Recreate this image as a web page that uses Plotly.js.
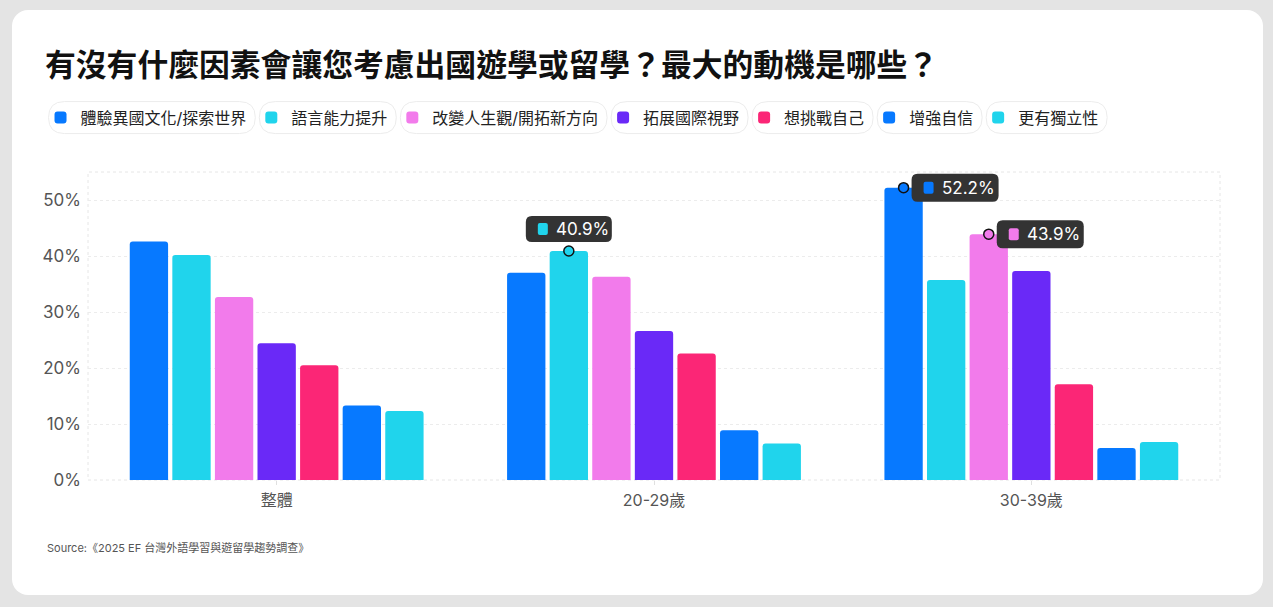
<!DOCTYPE html>
<html>
<head>
<meta charset="utf-8">
<script src="https://cdn.plot.ly/plotly-3.0.1.min.js"></script>
<style>
    html, body {
        margin: 0;
        padding: 0;
        background: #e4e4e4;
        width: 1273px;
        height: 607px;
        overflow: hidden;
    }

    #card {
        position: absolute;
        left: 12px;
        top: 10px;
        width: 1251px;
        height: 585px;
        background: #ffffff;
        border-radius: 16px;
        overflow: hidden;
    }

    #chart {
        width: 1251px;
        height: 585px;
    }
</style>
</head>
<body>
<div id="card"><div id="chart"></div></div>

<script>
// ---- data -------------------------------------------------------------

const groups = ["整體", "20-29歲", "30-39歲"];

const seriesNames = [
    "體驗異國文化/探索世界",
    "語言能力提升",
    "改變人生觀/開拓新方向",
    "拓展國際視野",
    "想挑戰自己",
    "增強自信",
    "更有獨立性"
];

const seriesColors = [
    "#0779FF",
    "#20D4EC",
    "#F27BEB",
    "#6A29F7",
    "#FB2676",
    "#0779FF",
    "#20D4EC"
];

// values per group, in series order (%)
const overall = [42.6, 40.2, 32.7, 24.4, 20.5, 13.3, 12.3];
const age20s = [37.0, 40.9, 36.3, 26.6, 22.6, 8.9, 6.5];
const age30s = [52.2, 35.7, 43.9, 37.3, 17.1, 5.7, 6.8];

const yTicks = [0, 10, 20, 30, 40, 50];
const yTickLabels = ["0%", "10%", "20%", "30%", "40%", "50%"];

// highlighted points: group index, series index, callout side
const callouts = [
    { group: 1, series: 1, side: "top" },
    { group: 2, series: 0, side: "right" },
    { group: 2, series: 2, side: "right" }
];

const sourceText = "Source:《2025 EF 台灣外語學習與遊留學趨勢調查》";

// ---- build ------------------------------------------------------------

const FONT = "Inter, 'Noto Sans CJK TC', 'Noto Sans', sans-serif";
const BARGAP = 0.21;
const groupValues = [overall, age20s, age30s];
const groupX = groups.map((g, i) => i);

const barTraces = seriesNames.map((name, s) => {
    return {
        type: "bar",
        name,
        x: groupX,
        y: groupValues.map(values => values[s]),
        marker: {
            color: seriesColors[s]
        },
        hoverinfo: "skip"
    };
});

// centre of a bar inside its group, in axis units
function barCentre(group, series) {
    const slot = (1 - BARGAP) / seriesNames.length;
    return group + (series - (seriesNames.length - 1) / 2) * slot;
}

function roundRect(x0, y0, x1, y1, r) {
    return `M${x0 + r},${y0} L${x1 - r},${y0} Q${x1},${y0} ${x1},${y0 + r}`
        + ` L${x1},${y1 - r} Q${x1},${y1} ${x1 - r},${y1}`
        + ` L${x0 + r},${y1} Q${x0},${y1} ${x0},${y1 - r}`
        + ` L${x0},${y0 + r} Q${x0},${y0} ${x0 + r},${y0} Z`;
}

const pointTrace = {
    type: "scatter",
    mode: "markers",
    x: callouts.map(c => barCentre(c.group, c.series)),
    y: callouts.map(c => groupValues[c.group][c.series]),
    marker: {
        size: 10,
        color: callouts.map(c => seriesColors[c.series]),
        line: {
            color: "#111",
            width: 1.5
        }
    },
    showlegend: false,
    hoverinfo: "skip",
    cliponaxis: false
};

const shapes = [
    {
        type: "rect",
        xref: "paper",
        yref: "paper",
        x0: 0,
        x1: 1,
        y0: 0,
        y1: 1,
        line: {
            color: "#e6e6e6",
            width: 1,
            dash: "dot"
        },
        layer: "below"
    }
];

const annotations = [];

callouts.forEach(c => {
    const x = barCentre(c.group, c.series);
    const y = groupValues[c.group][c.series];

    // box and swatch offsets in pixels from the point
    const box = c.side === "top"
        ? [-43, 9, 43, 35]
        : [8, -14, 95, 14];
    const swatch = c.side === "top"
        ? [-31, 16, -21, 28]
        : [20, -6, 30, 6];
    const textShift = c.side === "top"
        ? [-15, 22]
        : [36, 0];

    const common = {
        type: "path",
        xref: "x",
        yref: "y",
        xsizemode: "pixel",
        ysizemode: "pixel",
        xanchor: x,
        yanchor: y,
        layer: "above",
        line: { width: 0 }
    };

    shapes.push(Object.assign({}, common, {
        path: roundRect(box[0], box[1], box[2], box[3], 6),
        fillcolor: "#333333"
    }));

    shapes.push(Object.assign({}, common, {
        path: roundRect(swatch[0], swatch[1], swatch[2], swatch[3], 2),
        fillcolor: seriesColors[c.series]
    }));

    annotations.push({
        xref: "x",
        yref: "y",
        x,
        y,
        xanchor: "left",
        yanchor: "middle",
        xshift: textShift[0],
        yshift: textShift[1],
        showarrow: false,
        text: y.toFixed(1) + "%",
        font: {
            family: FONT,
            size: 17,
            color: "#ffffff"
        }
    });
});

annotations.push({
    xref: "paper",
    yref: "paper",
    x: -0.038,
    y: -0.22,
    xanchor: "left",
    yanchor: "middle",
    showarrow: false,
    text: sourceText,
    font: {
        family: FONT,
        size: 11,
        color: "#555"
    }
});

const layout = {
    width: 1251,
    height: 585,
    paper_bgcolor: "rgba(0,0,0,0)",
    plot_bgcolor: "rgba(0,0,0,0)",
    font: {
        family: FONT,
        color: "#555"
    },
    margin: {
        l: 76,
        r: 43,
        t: 162,
        b: 115
    },
    title: {
        text: "有沒有什麼因素會讓您考慮出國遊學或留學？最大的動機是哪些？",
        xref: "container",
        yref: "container",
        x: 0.0264,
        y: 0.906,
        xanchor: "left",
        yanchor: "middle",
        font: {
            family: FONT,
            size: 30.8,
            weight: "bold",
            color: "#111"
        }
    },
    legend: {
        orientation: "h",
        xref: "container",
        yref: "container",
        x: 0.0228,
        y: 0.845,
        xanchor: "left",
        yanchor: "top",
        font: {
            family: FONT,
            size: 16,
            color: "#222"
        },
        traceorder: "normal"
    },
    barmode: "group",
    bargap: BARGAP,
    bargroupgap: 0.1,
    barcornerradius: 3,
    xaxis: {
        range: [-0.5, 2.5],
        tickvals: groupX,
        ticktext: groups,
        ticks: "outside",
        ticklen: 4,
        tickcolor: "#e0e0e0",
        showgrid: false,
        zeroline: false,
        showline: false,
        ticklabelstandoff: 2,
        tickfont: {
            family: FONT,
            size: 16,
            color: "#555"
        },
        fixedrange: true
    },
    yaxis: {
        range: [0, 55],
        tickvals: yTicks,
        ticktext: yTickLabels,
        gridcolor: "#ececec",
        griddash: "dot",
        zeroline: false,
        showline: false,
        ticklabelstandoff: 6,
        tickfont: {
            family: FONT,
            size: 17,
            color: "#555"
        },
        fixedrange: true
    },
    hovermode: false,
    shapes,
    annotations
};

// pill outlines round the legend entries, measured after drawing
function addLegendPills(gd) {
    const size = gd._fullLayout._size;
    const origin = gd.getBoundingClientRect();
    const pills = [];

    gd.querySelectorAll(".legend .traces").forEach(item => {
        const symbol = item.querySelector(".legendpoints");
        const label = item.querySelector(".legendtext");

        if (!symbol || !label) {
            return;
        }

        const sr = symbol.getBoundingClientRect();
        const tr = label.getBoundingClientRect();

        const left = sr.left + sr.width / 2 - 12 - origin.left;
        const right = tr.right + 9 - origin.left;
        const middle = sr.top + sr.height / 2 - origin.top;

        pills.push({
            type: "path",
            xref: "paper",
            yref: "paper",
            xsizemode: "pixel",
            ysizemode: "pixel",
            xanchor: (left - size.l) / size.w,
            yanchor: 1 - (middle - size.t) / size.h,
            path: roundRect(0, -16, right - left, 16, 16),
            line: {
                color: "#ececec",
                width: 1
            },
            fillcolor: "rgba(0,0,0,0)",
            layer: "below"
        });
    });

    return Plotly.relayout(gd, {
        shapes: layout.shapes.concat(pills)
    });
}

Plotly.newPlot(
    "chart",
    barTraces.concat([pointTrace]),
    layout,
    {
        displayModeBar: false,
        staticPlot: true
    }
).then(addLegendPills);
</script>
</body>
</html>
